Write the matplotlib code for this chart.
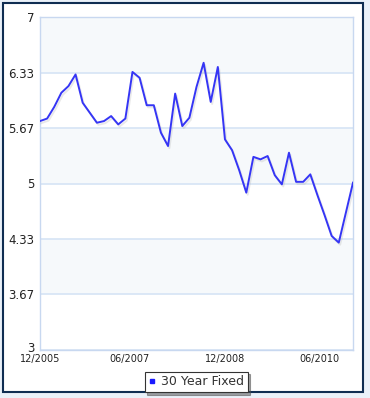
import numpy as np
import matplotlib.pyplot as plt
import matplotlib.patheffects as pe
import matplotlib.transforms as mtransforms
from matplotlib.patches import Rectangle

# 30 year fixed mortgage rate, Dec 2005 .. Dec 2010 (evenly spaced points)
rates = [5.75, 5.78, 5.92, 6.09, 6.17, 6.31, 5.97, 5.85, 5.73, 5.75,
         5.81, 5.71, 5.78, 6.34, 6.27, 5.94, 5.94, 5.61, 5.45, 6.08,
         5.69, 5.79, 6.16, 6.45, 5.98, 6.40, 5.53, 5.40, 5.16, 4.89,
         5.32, 5.29, 5.33, 5.10, 4.99, 5.37, 5.02, 5.02, 5.11, 4.86,
         4.62, 4.37, 4.29, 4.65, 5.01]
y_ticks = [3, 3.67, 4.33, 5, 5.67, 6.33, 7]
y_labels = ['3', '3.67', '4.33', '5', '5.67', '6.33', '7']
x_labels = ['12/2005', '06/2007', '12/2008', '06/2010']
x_label_pos = [0, 12.6, 26.0, 39.3]
series_name = '30 Year Fixed'

fig = plt.figure(figsize=(3.7, 3.98), dpi=100)
fig.patch.set_facecolor('#eaf1f9')
# white panel with dark frame, behind the axes
fig.patches.append(Rectangle((3 / 370, 1 - 392 / 398), 360 / 370, 389 / 398,
                             transform=fig.transFigure, facecolor='white',
                             edgecolor='#0f2d52', linewidth=1.5, zorder=-5))

ax = fig.add_axes([40 / 370, 1 - 350 / 398, 313 / 370, 333 / 398])
ax.set_facecolor('white')

x = np.arange(len(rates))
ax.set_xlim(0, len(rates) - 1)
ax.set_ylim(3, 7)

# alternating faint bands: 3.67-4.33, 5-5.67, 6.33-7
for lo, hi in [(3.67, 4.33), (5, 5.67), (6.33, 7)]:
    ax.axhspan(lo, hi, color='#f6f9fb', zorder=0, lw=0)
for yt in y_ticks:
    ax.axhline(yt, color='#d6e4f5', lw=1.2, zorder=1)

ax.plot(x, rates, color='#3535f5', lw=1.4, zorder=3,
        path_effects=[pe.SimpleLineShadow(offset=(1, -1.5), shadow_color='#aaaaaa', alpha=0.25),
                      pe.Normal()])

ax.set_yticks(y_ticks)
ax.set_yticklabels(y_labels, fontsize=8.5, color='#222222')
ax.set_xticks(x_label_pos)
ax.set_xticklabels(x_labels, fontsize=7, color='#222222')
ax.tick_params(length=0, pad=4)
ax.tick_params(axis='x', pad=3)
# lift the "3" a little so it clears the first date label
lbl = ax.get_yticklabels()[0]
lbl.set_transform(lbl.get_transform() + mtransforms.ScaledTranslation(0, 2 / 72, fig.dpi_scale_trans))
for s in ax.spines.values():
    s.set_color('#c8d8f0')
    s.set_linewidth(1)

leg = fig.legend([plt.Line2D([], [], marker='s', ls='none', color='#1a1aff', markersize=3)],
                 [series_name], loc='lower center', bbox_to_anchor=(196 / 370, 6 / 398),
                 borderaxespad=0, fontsize=9, frameon=True, fancybox=False, shadow=True,
                 handlelength=0.6, handletextpad=0.4, borderpad=0.3)
leg.get_frame().set_edgecolor('#333333')
leg.get_frame().set_linewidth(0.8)
for t in leg.get_texts():
    t.set_color('#333333')

fig.savefig('out.png', dpi=100)
